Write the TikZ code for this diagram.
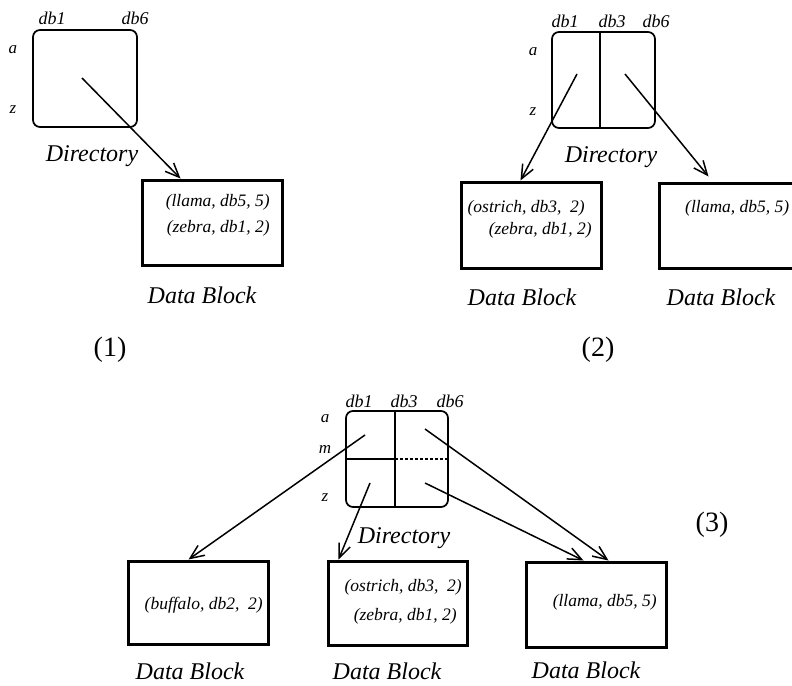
\documentclass[tikz,border=0pt]{standalone}
\usepackage{fontspec}
\setmainfont{Liberation Serif}
\usetikzlibrary{arrows.meta}
\tikzset{
  dirbox/.style={draw, line width=1.7pt, rounded corners=7pt, inner sep=0pt, outer sep=0pt},
  blockbox/.style={draw, line width=3pt, inner sep=0pt},
  divline/.style={line width=1.7pt},
  arr/.style={line width=1.5pt, -{Straight Barb[length=14pt,width=12pt,line width=1.5pt]}},
  lbl/.style={inner sep=0pt, font=\fontsize{24}{28}\selectfont\itshape},
  entry/.style={inner sep=0pt, anchor=east, font=\fontsize{17.5}{20}\selectfont\itshape},
  colkey/.style={inner sep=0pt, font=\fontsize{18}{20}\selectfont\itshape},
  rowkey/.style={inner sep=0pt, font=\fontsize{17}{18}\selectfont\itshape},
  num/.style={inner sep=0pt, font=\fontsize{28}{32}\selectfont},
}
\begin{document}
\begin{tikzpicture}[x=1pt, y=-1pt]
\useasboundingbox (0,0) rectangle (792,685);

% ---------------- Panel (1) ----------------
\node[dirbox, minimum width=104pt, minimum height=97pt] (d1) at (85,78.5) {};
\node[colkey] (d1c1) at (52,18) {db1};
\node[colkey] (d1c6) at (135,18) {db6};
\node[rowkey] (d1ra) at (13,50) {a};
\node[rowkey] (d1rz) at (13,110) {z};
\node[lbl] (d1l) at (92,156) {Directory};
\node[blockbox, minimum width=140pt, minimum height=85pt] (b1) at (212,222.5) {};
\node[entry] (b1e1) at (270,202) {(llama, db5, 5)};
\node[entry] (b1e2) at (270,228) {(zebra, db1, 2)};
\node[lbl] (b1l) at (202,295) {Data Block};
\node[num] (n1) at (110,350) {(1)};
\coordinate (s1) at (82,78);
\draw[arr] (s1) -- ([xshift=40pt]b1.north west);

% ---------------- Panel (2) ----------------
\node[dirbox, minimum width=103pt, minimum height=96pt] (d2) at (603.5,80) {};
\draw[divline] ([xshift=-3.5pt]d2.north) -- ([xshift=-3.5pt]d2.south);
\node[colkey] (d2c1) at (565,21) {db1};
\node[colkey] (d2c3) at (612,21) {db3};
\node[colkey] (d2c6) at (656,21) {db6};
\node[rowkey] (d2ra) at (533,52) {a};
\node[rowkey] (d2rz) at (533,112) {z};
\node[lbl] (d2l) at (611,157) {Directory};
\node[blockbox, minimum width=140pt, minimum height=86pt] (b2a) at (531,225) {};
\node[entry] (b2ae1) at (585,208) {(ostrich, db3,\ \ 2)};
\node[entry] (b2ae2) at (592,230) {(zebra, db1, 2)};
\node[blockbox, minimum width=137pt, minimum height=85pt] (b2b) at (727.5,225.5) {};
\node[entry, anchor=west] (b2be1) at (685,208) {(llama, db5, 5)};
\node[lbl] (b2al) at (522,297) {Data Block};
\node[lbl] (b2bl) at (721,297) {Data Block};
\node[num] (n2) at (598,350) {(2)};
\coordinate (s2a) at (577,74);
\coordinate (s2b) at (625,74);
\draw[arr] (s2a) -- ([xshift=61pt]b2a.north west);
\draw[arr] (s2b) -- ([xshift=51pt,yshift=5pt]b2b.north west);

% ---------------- Panel (3) ----------------
\node[dirbox, minimum width=102pt, minimum height=96pt] (d3) at (397,459) {};
\draw[divline] ([xshift=-2pt]d3.north) -- ([xshift=-2pt]d3.south);
\draw[divline] (d3.west) -- ([xshift=-2pt]d3.center);
\draw[line width=1.2pt, dashed, dash pattern=on 3pt off 2pt] ([xshift=-2pt]d3.center) -- (d3.east);
\node[colkey] (d3c1) at (359,401) {db1};
\node[colkey] (d3c3) at (404,401) {db3};
\node[colkey] (d3c6) at (450,401) {db6};
\node[rowkey] (d3ra) at (325,419) {a};
\node[rowkey] (d3rm) at (325,449) {m};
\node[rowkey] (d3rz) at (325,498) {z};
\node[lbl] (d3l) at (404,538) {Directory};
\node[num] (n3) at (712,525) {(3)};

\node[blockbox, minimum width=140pt, minimum height=83pt] (b3a) at (198,602.5) {};
\node[entry] (b3ae1) at (263,605) {(buffalo, db2,\ \ 2)};
\node[blockbox, minimum width=139pt, minimum height=84pt] (b3b) at (397.5,603) {};
\node[entry] (b3be1) at (462,587) {(ostrich, db3,\ \ 2)};
\node[entry] (b3be2) at (457,616) {(zebra, db1, 2)};
\node[blockbox, minimum width=140pt, minimum height=85pt] (b3c) at (596,604.5) {};
\node[entry] (b3ce1) at (657,602) {(llama, db5, 5)};
\node[lbl] (b3al) at (190,671) {Data Block};
\node[lbl] (b3bl) at (387,671) {Data Block};
\node[lbl] (b3cl) at (586,670) {Data Block};

\coordinate (s3a) at (365,435);
\coordinate (s3b) at (370,483);
\coordinate (s3c) at (425,429);
\coordinate (s3d) at (425,483);
\draw[arr] (s3a) -- ([xshift=62pt]b3a.north west);
\draw[arr] (s3b) -- ([xshift=12pt]b3b.north west);
\draw[arr] (s3c) -- ([xshift=84pt]b3c.north west);
\draw[arr] (s3d) -- ([xshift=59pt]b3c.north west);
\end{tikzpicture}
\end{document}
